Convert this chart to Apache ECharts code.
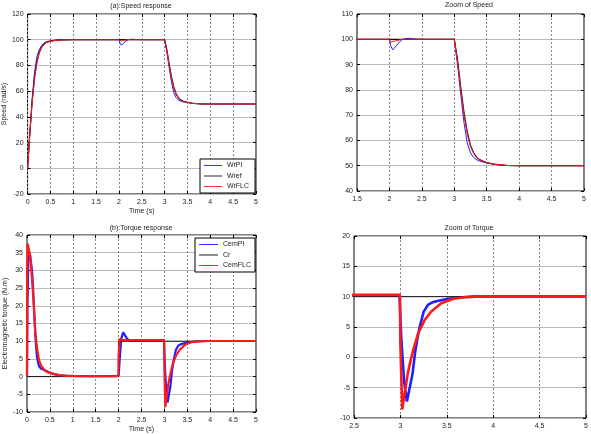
<!DOCTYPE html>
<html>
<head>
<meta charset="utf-8">
<script src="https://cdn.jsdelivr.net/npm/echarts@6/dist/echarts.min.js"></script>
<style>html,body{margin:0;padding:0;background:#fff}#c{width:591px;height:434px}</style>
</head>
<body>
<div id="c"></div>
<script>
// ---- Speed data ----
const tSpeed = [0,0.05,0.1,0.15,0.2,0.25,0.3,0.35,0.4,0.5,0.6,0.7,0.8,1.0,1.5,2.0,2.02,2.05,2.1,2.15,2.2,2.25,2.3,2.4,2.5,3.0,3.05,3.1,3.15,3.2,3.25,3.3,3.35,3.4,3.5,3.6,3.7,3.8,4.0,4.5,5.0];
const wref  = [0,28,52,70,82,89.5,93.8,96.3,97.8,98.9,99.5,99.8,99.95,100,100,100,100,100,100,100,100,100,100,100,100,100,92,81,71,63.5,58,55,53.2,52.3,51.2,50.6,50.3,50.1,50,50,50];
const wrFLC = [0,27,51,69,81,89,93.5,96,97.6,98.8,99.4,99.7,99.9,100,100,100,98.9,99.1,99.4,99.7,100,100,100,100,100,100,91,80,70,62.5,57.5,54.8,53,52.2,51.2,50.6,50.3,50.1,50,50,50];
const wrPI  = [0,27,54,74,86,92,95,97,98.2,99.2,99.6,99.8,99.95,100,100,100,97.5,95.8,97.2,98.8,99.9,100.3,100.4,100.1,100,100,90,78,67,59,55,53.2,52.3,51.7,51.2,50.7,50.3,50.1,50,50,50];

// ---- Torque data ----
const tPI   = [0,0.01,0.03,0.06,0.09,0.11,0.13,0.16,0.19,0.22,0.26,0.3,0.35,0.4,0.5,0.6,0.7,0.8,1.0,1.5,2.0,2.03,2.06,2.1,2.13,2.17,2.22,2.3,2.5,2.99,3.01,3.04,3.07,3.1,3.13,3.16,3.2,3.25,3.3,3.35,3.4,3.5,3.6,3.7,3.8,4.0,4.5,5.0];
const cemPI = [0,20,33,35,34.5,30,25.7,17.3,9.9,5.3,3,2.3,2,1.7,1.1,0.7,0.4,0.3,0.2,0.1,0.2,6,10.8,12.5,12.2,11,10.3,10.2,10.2,10.2,3,-4,-7.3,-5,-2.8,1.0,4.5,7.5,8.7,9.1,9.3,9.6,9.8,9.95,10,10.05,10.05,10.05];
const tFLC  = [0,0.005,0.015,0.04,0.07,0.11,0.15,0.18,0.22,0.26,0.31,0.4,0.5,0.66,0.88,1.2,1.5,1.995,2.0,2.025,2.06,2.1,2.5,2.995,3.0,3.02,3.05,3.08,3.11,3.14,3.19,3.26,3.33,3.44,3.58,3.7,3.8,4.0,4.5,5.0];
const cemFLC= [0,30,37.5,36,34,27.5,20,12.7,8,4.8,3,1.6,1,0.5,0.2,0.1,0.1,0.1,6,10.7,10.4,10.3,10.3,10.3,2,-8.6,-5.5,-2.6,-0.5,1.3,3.9,6.1,7.5,8.9,9.7,9.9,10,10.05,10.05,10.05];
const tCr   = [0,2,2,5];
const cr    = [0,0,10,10];

// ---- Axis settings ----
const xTicks = [{min:0,max:5,interval:0.5},{min:1.5,max:5,interval:0.5},{min:0,max:5,interval:0.5},{min:2.5,max:5,interval:0.5}];
const yTicks = [{min:-20,max:120,interval:20},{min:40,max:110,interval:10},{min:-10,max:40,interval:5},{min:-10,max:20,interval:5}];
const titles = ['(a):Speed response','Zoom of Speed','(b):Torque response','Zoom of Torque'];
const xNames = ['Time (s)','','Time (s)',''];
const yNames = ['Speed (rad/s)','','Electromagnetic torque (N.m)',''];

function zip(t,v){return t.map((x,i)=>[x,v[i]]);}

const FONT = 'Liberation Sans';
const grids = [
  {left:26, top:14, width:230, height:180},
  {left:357, top:14, width:227, height:177},
  {left:27, top:235, width:229, height:181},
  {left:354, top:236, width:232, height:182}
];
const titleX = [141,469,141,469];
const titleY = [3,2,225,225];

const TICK = {show:true,inside:true,length:3,lineStyle:{color:'#000'}};
const xAxis = [], yAxis = [];
for (let i=0;i<4;i++){
  xAxis.push({type:'value', gridIndex:i, position:'bottom', min:xTicks[i].min, max:xTicks[i].max, interval:xTicks[i].interval,
    name:xNames[i], nameLocation:'middle', nameGap:14, nameTextStyle:{fontSize:7,color:'#222',fontFamily:FONT},
    axisLine:{show:false,onZero:false}, axisTick:TICK,
    axisLabel:{fontSize:7,color:'#222',margin:5,fontFamily:FONT},
    splitLine:{show:true,lineStyle:{color:'#888',type:[2,2],width:1}}});
  yAxis.push({type:'value', gridIndex:i, position:'left', min:yTicks[i].min, max:yTicks[i].max, interval:yTicks[i].interval,
    name:yNames[i], nameLocation:'middle', nameGap:i===0?16:14, nameTextStyle:{fontSize:7,color:'#222',fontFamily:FONT},
    axisLine:{show:false,onZero:false}, axisTick:TICK,
    axisLabel:{fontSize:7,color:'#222',margin:4,fontFamily:FONT},
    splitLine:{show:true,lineStyle:{color:'#bbb',width:1}}});
}
// mirror ticks on top/right
for (let i=0;i<4;i++){
  xAxis.push({type:'value', gridIndex:i, position:'top', min:xTicks[i].min, max:xTicks[i].max, interval:xTicks[i].interval,
    axisLine:{show:false,onZero:false}, axisTick:TICK, axisLabel:{show:false}, splitLine:{show:false}});
  yAxis.push({type:'value', gridIndex:i, position:'right', min:yTicks[i].min, max:yTicks[i].max, interval:yTicks[i].interval,
    axisLine:{show:false,onZero:false}, axisTick:TICK, axisLabel:{show:false}, splitLine:{show:false}});
}

function line(name, data, gi, color, width, z){
  return {type:'line', name:name, data:data, xAxisIndex:gi, yAxisIndex:gi, symbol:'none', showSymbol:false,
    smooth:false, clip:true, lineStyle:{color:color,width:width}, itemStyle:{color:color}, z:z||2, animation:false};
}

const BLUE='#2020ff', RED='#ff1a1a', BLACK='#111';
const series = [];
for (const gi of [0,1]){
  series.push(line('WrPI', zip(tSpeed,wrPI), gi, BLUE, 1, 2));
  series.push(line('Wref', zip(tSpeed,wref), gi, BLACK, 1.2, 3));
  series.push(line('WrFLC', zip(tSpeed,wrFLC), gi, RED, 1, 4));
}
for (const gi of [2,3]){
  const w = gi===2?2.2:2.6;
  series.push(line('CemPI', zip(tPI,cemPI), gi, BLUE, w, 2));
  series.push(line('Cr', zip(tCr,cr), gi, BLACK, 1, 3));
  series.push(line('CemFLC', zip(tFLC,cemFLC), gi, RED, w, 4));
}

const ICON = 'path://M0,0h20v1h-20z';
const chart = echarts.init(document.getElementById('c'), null, {renderer:'canvas'});
chart.setOption({
  animation:false,
  backgroundColor:'#fff',
  textStyle:{fontFamily:FONT},
  title: titles.map((t,i)=>({text:t, left:titleX[i], top:titleY[i], textAlign:'center', padding:0,
    textStyle:{fontSize:7,fontWeight:'normal',color:'#222',fontFamily:FONT}})),
  grid: grids.map(g=>Object.assign({show:true,borderColor:'#000',borderWidth:1,backgroundColor:'transparent'},g)),
  xAxis: xAxis,
  yAxis: yAxis,
  legend: [
    {data:['WrPI','Wref','WrFLC'], icon:ICON, orient:'vertical', left:200, top:159, itemWidth:18, itemHeight:7, itemGap:3.5,
     padding:[3,6,3,4], borderColor:'#000', borderWidth:1, backgroundColor:'#fff', selectedMode:false,
     textStyle:{fontSize:7,color:'#222',fontFamily:FONT}},
    {data:['CemPI','Cr','CemFLC'], icon:ICON, orient:'vertical', left:195, top:238, itemWidth:19, itemHeight:7, itemGap:3.5,
     padding:[3,4,3,4], borderColor:'#000', borderWidth:1, backgroundColor:'#fff', selectedMode:false,
     textStyle:{fontSize:7,color:'#222',fontFamily:FONT}}
  ],
  series: series
});
</script>
</body>
</html>
